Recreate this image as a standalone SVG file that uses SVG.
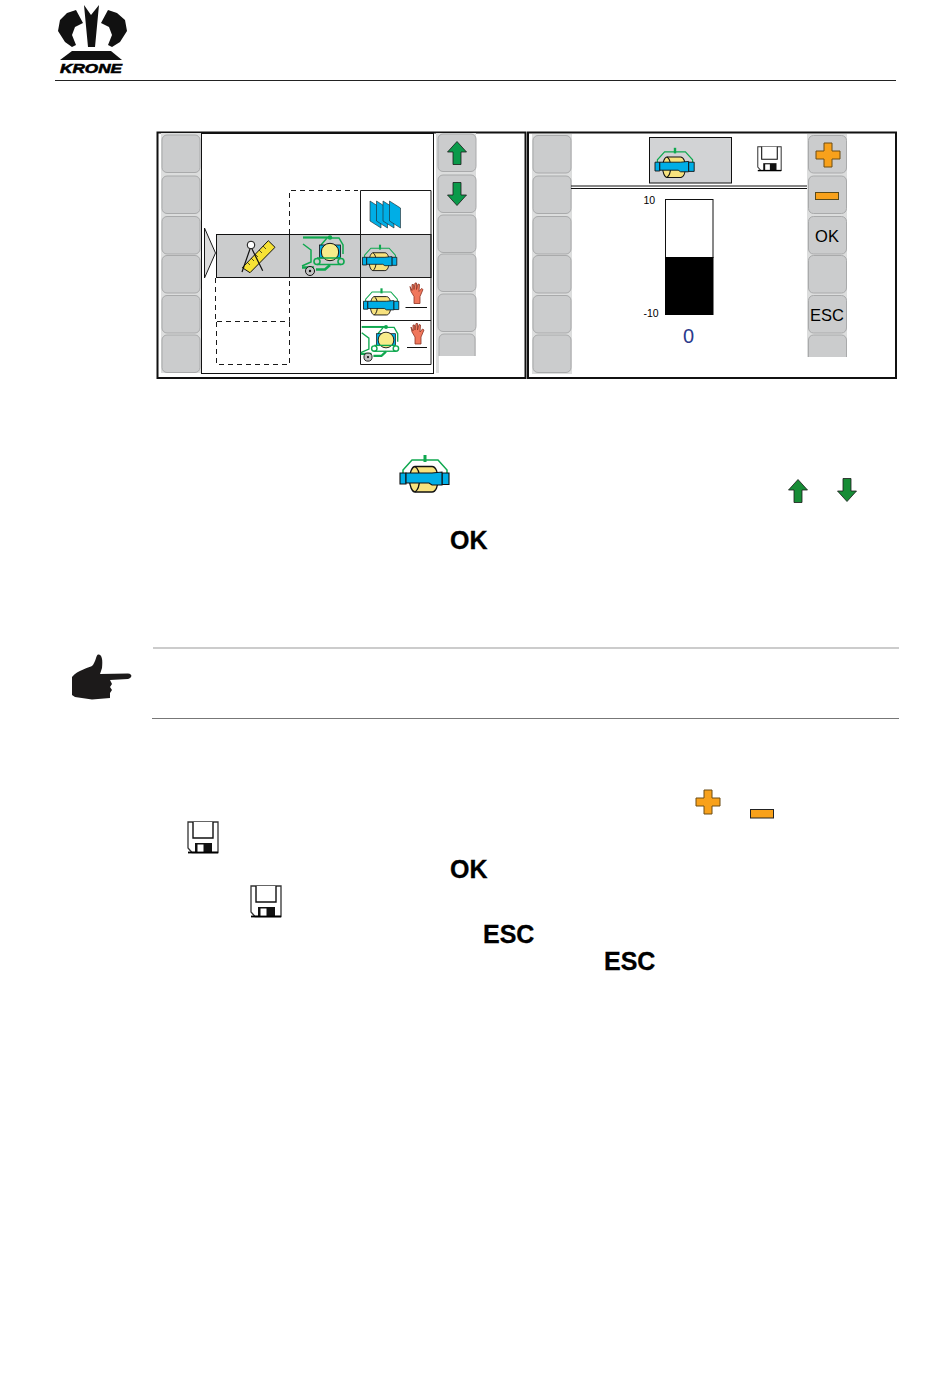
<svg xmlns="http://www.w3.org/2000/svg" xmlns:xlink="http://www.w3.org/1999/xlink" width="950" height="1379" viewBox="0 0 950 1379">
<style>
text{font-family:"Liberation Sans",Arial,sans-serif;fill:#000}
.b{font-weight:bold;font-size:25px;stroke:#000;stroke-width:.3px}
.btn{fill:#cbcccd;stroke:#a9aaab;stroke-width:1}
.strip{fill:#dcdddd}
.ln{fill:none;stroke:#1a1a1a;stroke-width:1}
.da{fill:none;stroke:#1a1a1a;stroke-width:1;stroke-dasharray:5 4}
.g{fill:none;stroke:#0fa84f;stroke-width:1.500}
</style>
<defs>
<symbol id="bale" overflow="visible" viewBox="-30 -25 60 50" width="60" height="50">
<path class="g" d="M-22 -1V-4L-13 -14H13L22 -4V-1"/>
<rect x="-1.500" y="-19" width="3" height="7" fill="#0fa84f"/>
<path d="M-10 -7.500H7C11 -7.500 13 -1 13 5C13 12 11 18 7 18H-10C-13 18 -15.500 12 -15.500 5C-15.500 -1 -13 -7.500 -10 -7.500Z" fill="#f7e27e" stroke="#111" stroke-width="1.300"/>
<path d="M-10 -7.500C-4 -4 -4 14 -10 18" fill="none" stroke="#111" stroke-width="1.300"/>
<path d="M-19 -1H-25V10H-19ZM17 -1H24V10.500H17Z" fill="#00aee6" stroke="#111" stroke-width="1.100"/>
<path d="M-19 -1H7L17 -2V11H7L4 9H-19Z" fill="#00aee6" stroke="#111" stroke-width="1.100"/>
</symbol>
<symbol id="press" overflow="visible" viewBox="-30 -20 50 45" width="50" height="45">
<path d="M-27 -14.500H0" stroke="#0fa84f" stroke-width="2.200" fill="none"/>
<circle cx="0" cy="-14.500" r="2.200" fill="#0fa84f"/>
<path class="g" d="M0 -14L9 -14L13 -7V2M-9 -7L-3 -14"/>
<rect x="-10.500" y="-7" width="21" height="13" fill="#00aee6" stroke="#111" stroke-width=".8"/>
<circle r="8.700" fill="#f7ec8a" stroke="#111" stroke-width="1"/>
<path class="g" d="M-27 -8L-19 -2V10L-28 14"/>
<path d="M-13 6H11" stroke="#0fa84f" stroke-width="1.500"/>
<path d="M-13 12.500H11" stroke="#0fa84f" stroke-width="1.500"/>
<circle cx="-13" cy="9.500" r="3" fill="none" stroke="#0fa84f" stroke-width="1.600"/>
<circle cx="11" cy="9.500" r="3" fill="none" stroke="#0fa84f" stroke-width="1.600"/>
<path d="M-28 15.500H-16M-14 17.500H-5L0 13" fill="none" stroke="#0fa84f" stroke-width="2.500"/>
<circle cx="-20" cy="19" r="4.500" fill="#c4c4c4" stroke="#111"/>
<circle cx="-20" cy="19" r="1.200" fill="#111"/>
</symbol>
<symbol id="save" overflow="visible" viewBox="0 0 32 33" width="32" height="33">
<path d="M1 1H31V31.500H5L1 27Z" fill="#fff" stroke="#333" stroke-width="1.300"/>
<path d="M6 1V17H26V1" fill="#fff" stroke="#111" stroke-width="1.400"/>
<path d="M8 31.500V22H25V31.500Z" fill="#111"/>
<rect x="10.500" y="23.500" width="6" height="8" fill="#fff"/>
<path d="M1 31.500H31" stroke="#000" stroke-width="1.800"/>
</symbol>
<path id="up" d="M0 -11.500L9.500 -1H4V11.500H-4V-1H-9.500Z" stroke="#1a1a1a" stroke-width=".8"/>
<path id="plus" d="M-4 -12H4V-4H12V4H4V12H-4V4H-12V-4H-4Z" fill="#f8a11b" stroke="#6d4c14" stroke-width="1"/>
<path id="hand" d="M3 20L3 13L0 8L-1 3L1 7L1 1L2.500 1L3 6L4 -.5L5.500 -.5L5.500 6L7 .5L8.500 1L8 8L10.500 5L12 6L9 13L9 20Z" fill="#f0775c" stroke="#8c3423" stroke-width=".8"/>
<rect id="key" x="0" y="0" width="38" height="37.500" rx="5" class="btn"/>
</defs>

<g id="logo" fill="#111">
<path d="M84 5L91 15L99 5L95 47H88Z"/>
<path d="M76 10L83 23L75 27L72 35L76 45L72 47L65 42L58 31L60 20L67 13Z"/>
<path d="M108 10L101 23L109 27L112 35L108 45L112 47L120 42L127 31L125 20L117 13Z"/>
<path d="M72 51H111L122 60H60Z"/>
<text x="60" y="73" font-size="13.500" font-weight="bold" font-style="italic" textLength="62" lengthAdjust="spacingAndGlyphs" style="stroke:#000;stroke-width:.6px">KRONE</text>
</g>
<path id="header-rule" d="M55 80.500H896" stroke="#222" stroke-width="1"/>

<g id="panel-left">
<rect x="157.500" y="132.500" width="368" height="245.500" fill="#fff" stroke="#111" stroke-width="2"/>
<rect class="strip" x="161" y="133" width="40" height="240"/>
<use xlink:href="#key" href="#key" x="162" y="135"/>
<use xlink:href="#key" href="#key" x="162" y="176"/>
<use xlink:href="#key" href="#key" x="162" y="216.500"/>
<use xlink:href="#key" href="#key" x="162" y="255.500"/>
<use xlink:href="#key" href="#key" x="162" y="295.500"/>
<use xlink:href="#key" href="#key" x="162" y="335"/>
<rect x="201.500" y="133.500" width="232" height="240" fill="#fff" stroke="#111" stroke-width="1"/>
<rect class="strip" x="436" y="133" width="40" height="223"/>
<rect class="strip" x="436" y="356" width="3" height="17"/>
<use xlink:href="#key" href="#key" x="438" y="134"/>
<use xlink:href="#key" href="#key" x="438" y="175"/>
<use xlink:href="#key" href="#key" x="438" y="215"/>
<use xlink:href="#key" href="#key" x="438" y="254"/>
<use xlink:href="#key" href="#key" x="438" y="294"/>
<path d="M439 356V339a5 5 0 0 1 5 -5H470a5 5 0 0 1 5 5V356Z" fill="#cbcccd"/>
<path d="M439 356V339a5 5 0 0 1 5 -5H470a5 5 0 0 1 5 5V356" fill="none" stroke="#a9aaab"/>
<use xlink:href="#up" href="#up" transform="translate(457 153)" fill="#0a9a4a"/>
<use xlink:href="#up" href="#up" transform="translate(457 194) rotate(180)" fill="#0a9a4a"/>
</g>

<g id="menu-table">
<path d="M204.500 228L215.500 253L204.500 278Z" fill="#ddd" stroke="#1a1a1a"/>
<rect x="216.500" y="234.500" width="214.500" height="43" fill="#cbcccd" stroke="#111"/>
<path class="ln" d="M289.500 234.500V277.500M360.500 190.500V364.500H431V190.500H360.500M360.500 234.500H431M360.500 277.500H431M360.500 320.500H431"/>
<path class="da" d="M289.500 234V190.500H358M215.500 278V321.500H289.500V278M216.500 322V364.500H289.500V322"/>
<g id="icon-measure">
<path d="M242.300 267.700L268.300 240.700L275 247.300L250 272.700Z" fill="#f7e234" stroke="#111" stroke-width="1"/>
<path d="M247 262L250 265M251 258L254 261M255 254L258 257M259 250L262 253M263 246L266 249" stroke="#111" stroke-width=".7"/>
<circle cx="251" cy="245" r="3.800" fill="#fff" stroke="#111"/>
<path d="M250 249L242 272M252 249L262.700 270.700" stroke="#111" stroke-width="1.200"/>
</g>
<use id="icon-press" xlink:href="#press" href="#press" x="300" y="232"/>
<g id="icon-pages" fill="#00aee6" stroke="#222" stroke-width=".6">
<path d="M370 201L381 208V228L370 221Z"/>
<path d="M376.500 201L387.500 208V228L376.500 221Z"/>
<path d="M383 201L394 208V228L383 221Z"/>
<path d="M389.500 201L400.500 208V228L389.500 221Z"/>
</g>
<g id="icon-bale-1" transform="translate(380 258) scale(.7)"><use xlink:href="#bale" href="#bale" x="-30" y="-25"/></g>
<g id="icon-bale-2" transform="translate(381.500 302) scale(.72)"><use xlink:href="#bale" href="#bale" x="-30" y="-25"/></g>
<g id="icon-press-2" transform="translate(386 340) scale(.9)"><use xlink:href="#press" href="#press" x="-30" y="-20"/></g>
<use xlink:href="#hand" href="#hand" x="411" y="283.500"/>
<path d="M405.500 307.500H427" stroke="#111"/>
<use xlink:href="#hand" href="#hand" x="412" y="324"/>
<path d="M407 347.500H427" stroke="#111"/>
</g>

<g id="panel-right">
<rect x="528" y="132.500" width="368" height="245.500" fill="#fff" stroke="#111" stroke-width="2"/>
<rect class="strip" x="532" y="134" width="40" height="240"/>
<use xlink:href="#key" href="#key" x="533" y="135.500"/>
<use xlink:href="#key" href="#key" x="533" y="176"/>
<use xlink:href="#key" href="#key" x="533" y="216.500"/>
<use xlink:href="#key" href="#key" x="533" y="255.500"/>
<use xlink:href="#key" href="#key" x="533" y="295.500"/>
<use xlink:href="#key" href="#key" x="533" y="335"/>
<rect class="strip" x="807" y="134" width="40" height="223"/>
<use xlink:href="#key" href="#key" x="808.500" y="135.500"/>
<use xlink:href="#key" href="#key" x="808.500" y="176"/>
<use xlink:href="#key" href="#key" x="808.500" y="216.500"/>
<use xlink:href="#key" href="#key" x="808.500" y="255.500"/>
<use xlink:href="#key" href="#key" x="808.500" y="295.500"/>
<path d="M808.500 357V340a5 5 0 0 1 5 -5H841.500a5 5 0 0 1 5 5V357Z" fill="#cbcccd"/>
<path d="M808.500 357V340a5 5 0 0 1 5 -5H841.500a5 5 0 0 1 5 5V357" fill="none" stroke="#a9aaab"/>
<path d="M571 186H807M571 188.500H807" stroke="#111" stroke-width="1"/>
<rect x="649.500" y="137.500" width="82" height="45.500" fill="#d2d3d5" stroke="#111"/>
<g transform="translate(675 163) scale(.8)"><use xlink:href="#bale" href="#bale" x="-30" y="-25"/></g>
<g transform="translate(757 146) scale(.78)"><use xlink:href="#save" href="#save"/></g>
<use xlink:href="#plus" href="#plus" transform="translate(828 155)"/>
<rect x="815.500" y="192.500" width="23" height="7" fill="#f8a11b" stroke="#5a4a1a"/>
<text x="827" y="242" font-size="16.500" text-anchor="middle">OK</text>
<text x="827" y="320.500" font-size="16.500" text-anchor="middle">ESC</text>
<rect x="665.500" y="199.500" width="47.500" height="58" fill="#fff" stroke="#111"/>
<rect x="665" y="257" width="48.500" height="58" fill="#000"/>
<text x="643.500" y="204" font-size="10.500">10</text>
<text x="643.500" y="317" font-size="10.500">-10</text>
<text x="688.500" y="343" font-size="20" text-anchor="middle" style="fill:#2b3a8c">0</text>
</g>

<g id="inline-icons">
<g transform="translate(425 474)"><use xlink:href="#bale" href="#bale" x="-30" y="-25"/></g>
<use xlink:href="#up" href="#up" transform="translate(798 491)" fill="#178c36"/>
<use xlink:href="#up" href="#up" transform="translate(847 490) rotate(180)" fill="#178c36"/>
<use xlink:href="#plus" href="#plus" transform="translate(708 802)"/>
<rect x="750.500" y="809.500" width="23" height="8.500" fill="#f8a11b" stroke="#222"/>
<use xlink:href="#save" href="#save" x="187" y="821"/>
<use xlink:href="#save" href="#save" x="250" y="885"/>
</g>

<g id="inline-labels">
<text class="b" x="450" y="549">OK</text>
<text class="b" x="450" y="878">OK</text>
<text class="b" x="483" y="943">ESC</text>
<text class="b" x="604" y="970">ESC</text>
</g>

<g id="note">
<path d="M72 677C78 670 88 668 92 666C96 662 96 655 98 654.500C102 654 103 660 102 668L100 674L128 673.500C133 674 132 678 128 679L110 680L112 684L110 687L112 690L110 693L110 698L92 699.500L75 697L72 695Z" fill="#1c1a1a"/>
<path d="M153 648H899" stroke="#999" stroke-width="1.200"/>
<path d="M152 718.500H899" stroke="#777" stroke-width="1"/>
</g>
</svg>
